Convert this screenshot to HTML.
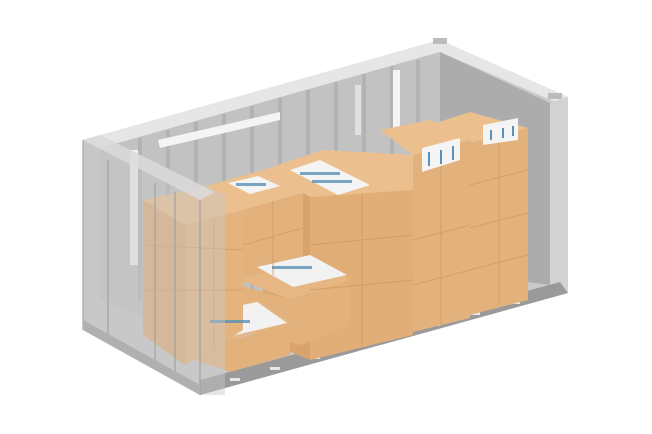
<!DOCTYPE html>
<html><head><meta charset="utf-8"><style>html,body{margin:0;padding:0;background:#fff}svg{display:block}</style></head>
<body>
<svg width="652" height="434" viewBox="0 0 652 434" xmlns="http://www.w3.org/2000/svg">
<!-- container body -->
<polygon points="83,140 440,40 568,97 568,293 200,395 83,330" fill="#c9c9c9"/>
<!-- back long wall -->
<polygon points="100,148 440,52 440,268 210,340 100,300" fill="#c2c2c2"/>
<!-- corrugations -->
<g stroke="#b3b3b3" stroke-width="4">
<line x1="140" y1="138" x2="140" y2="300"/><line x1="168" y1="130" x2="168" y2="300"/>
<line x1="196" y1="122" x2="196" y2="300"/><line x1="224" y1="114" x2="224" y2="300"/>
<line x1="252" y1="106" x2="252" y2="300"/><line x1="280" y1="98" x2="280" y2="300"/>
<line x1="308" y1="90" x2="308" y2="300"/><line x1="336" y1="82" x2="336" y2="300"/>
<line x1="364" y1="74" x2="364" y2="300"/><line x1="392" y1="66" x2="392" y2="300"/>
<line x1="418" y1="60" x2="418" y2="300"/>
</g>
<!-- top rim -->
<polygon points="83,140 440,40 568,97 560,104 440,52 100,148" fill="#e6e6e6"/>
<!-- right end interior -->
<polygon points="440,52 550,103 550,285 440,270" fill="#acacac"/>
<polygon points="550,103 568,97 568,293 550,285" fill="#d2d2d2"/>
<rect x="433" y="38" width="14" height="6" fill="#bbb"/>
<rect x="548" y="93" width="14" height="6" fill="#bbb"/>
<!-- floor strip -->
<polygon points="200,380 560,282 568,293 200,395" fill="#9a9a9a"/>
<g fill="#e8e8e8"><rect x="230" y="378" width="10" height="3"/><rect x="270" y="367" width="10" height="3"/><rect x="310" y="356" width="10" height="3"/><rect x="350" y="345" width="10" height="3"/><rect x="390" y="334" width="10" height="3"/><rect x="430" y="323" width="10" height="3"/><rect x="470" y="312" width="10" height="3"/><rect x="510" y="301" width="10" height="3"/></g>
<!-- wall desiccants -->
<polygon points="158,140 280,112 280,120 160,148" fill="#f4f4f4"/>
<rect x="393" y="70" width="7" height="60" fill="#f4f4f4"/>
<rect x="355" y="85" width="6" height="50" fill="#e0e0e0"/>
<rect x="130" y="150" width="8" height="115" fill="#f4f4f4"/>
<!-- boxes: rear stacks -->
<polygon points="420,128 470,112 528,128 470,143" fill="#ebc08e"/>
<polygon points="470,143 528,128 528,300 470,315" fill="#e3b27c"/>
<polygon points="420,128 470,143 470,315 420,300" fill="#dba66f"/>
<polygon points="380,130 430,120 470,140 413,155" fill="#ebc08e"/>
<polygon points="413,155 470,140 470,318 413,332" fill="#e3b27c"/>
<!-- big middle stack -->
<polygon points="263,170 323,150 413,155 413,192 310,197" fill="#ebc08e"/>
<polygon points="310,197 413,190 413,335 310,360" fill="#e1ae77"/>
<polygon points="263,170 310,197 310,360 263,340" fill="#d9a36b"/>
<!-- stack S2 -->
<polygon points="203,187 263,170 303,193 243,210" fill="#ebc08e"/>
<polygon points="243,210 303,193 303,265 243,282" fill="#e3b27c"/>
<!-- open boxes -->
<polygon points="240,280 310,258 350,280 290,300" fill="#e6b782"/>
<polygon points="257,267 310,255 347,275 293,287" fill="#f2f2f2"/>
<polygon points="240,285 290,300 350,282 350,325 300,345 240,330" fill="#e3b27c"/>
<polygon points="185,318 257,300 290,322 230,340" fill="#e6b782"/>
<polygon points="197,315 257,302 287,323 227,337" fill="#f2f2f2"/>
<polygon points="180,320 230,340 290,325 290,355 230,372 180,355" fill="#e3b27c"/>
<!-- door-side stack (front) -->
<polygon points="143,200 203,187 243,210 185,225" fill="#ebc08e"/>
<polygon points="143,200 185,225 185,365 143,335" fill="#e0ac74"/>
<polygon points="185,225 243,210 243,330 185,365" fill="#e5b47e"/>
<!-- grid lines -->
<g stroke="#cf9a62" stroke-width="1" fill="none" opacity="0.8">
<line x1="499" y1="135" x2="499" y2="305"/><line x1="470" y1="185" x2="528" y2="170"/><line x1="470" y1="228" x2="528" y2="213"/><line x1="470" y1="270" x2="528" y2="255"/>
<line x1="441" y1="150" x2="441" y2="325"/><line x1="413" y1="240" x2="470" y2="225"/><line x1="413" y1="285" x2="470" y2="270"/>
<line x1="362" y1="194" x2="362" y2="348"/><line x1="310" y1="245" x2="413" y2="235"/><line x1="310" y1="290" x2="413" y2="280"/>
<line x1="273" y1="201" x2="273" y2="275"/><line x1="243" y1="245" x2="303" y2="228"/>
<line x1="214" y1="218" x2="214" y2="350"/><line x1="143" y1="245" x2="243" y2="250"/><line x1="143" y1="290" x2="243" y2="290"/>
</g>
<!-- labels on box tops -->
<polygon points="228,183 258,176 280,186 250,194" fill="#f4f4f4"/>
<polygon points="290,170 320,160 370,185 338,195" fill="#f4f4f4"/>
<g fill="#5a90b5" opacity="0.8">
<rect x="236" y="183" width="30" height="3"/><rect x="300" y="172" width="40" height="3"/><rect x="312" y="180" width="40" height="3"/>
<rect x="272" y="266" width="40" height="3"/><rect x="210" y="320" width="40" height="3"/>
</g>
<polygon points="422,148 460,138 460,160 422,172" fill="#f4f4f4"/>
<polygon points="483,125 518,118 518,140 483,145" fill="#f4f4f4"/>
<g fill="#5a90b5"><rect x="428" y="152" width="2" height="14"/><rect x="440" y="150" width="2" height="14"/><rect x="452" y="146" width="2" height="14"/><rect x="490" y="130" width="2" height="10"/><rect x="502" y="128" width="2" height="10"/><rect x="512" y="126" width="2" height="10"/></g>
<!-- front door frame (semi-transparent) -->
<polygon points="83,140 100,135 225,195 225,395 200,395 83,330" fill="#c8c8c8" opacity="0.45"/>
<polygon points="83,140 100,135 215,192 200,200" fill="#dcdcdc" opacity="0.8"/>
<g stroke="#9d9d9d" stroke-width="1.5" opacity="0.7">
<line x1="108" y1="160" x2="108" y2="340"/><line x1="155" y1="183" x2="155" y2="368"/><line x1="175" y1="192" x2="175" y2="378"/>
<line x1="83" y1="140" x2="83" y2="330"/><line x1="200" y1="200" x2="200" y2="395"/>
</g>
<polygon points="83,320 200,385 200,395 83,330" fill="#b0b0b0"/>
</svg>
</body></html>
